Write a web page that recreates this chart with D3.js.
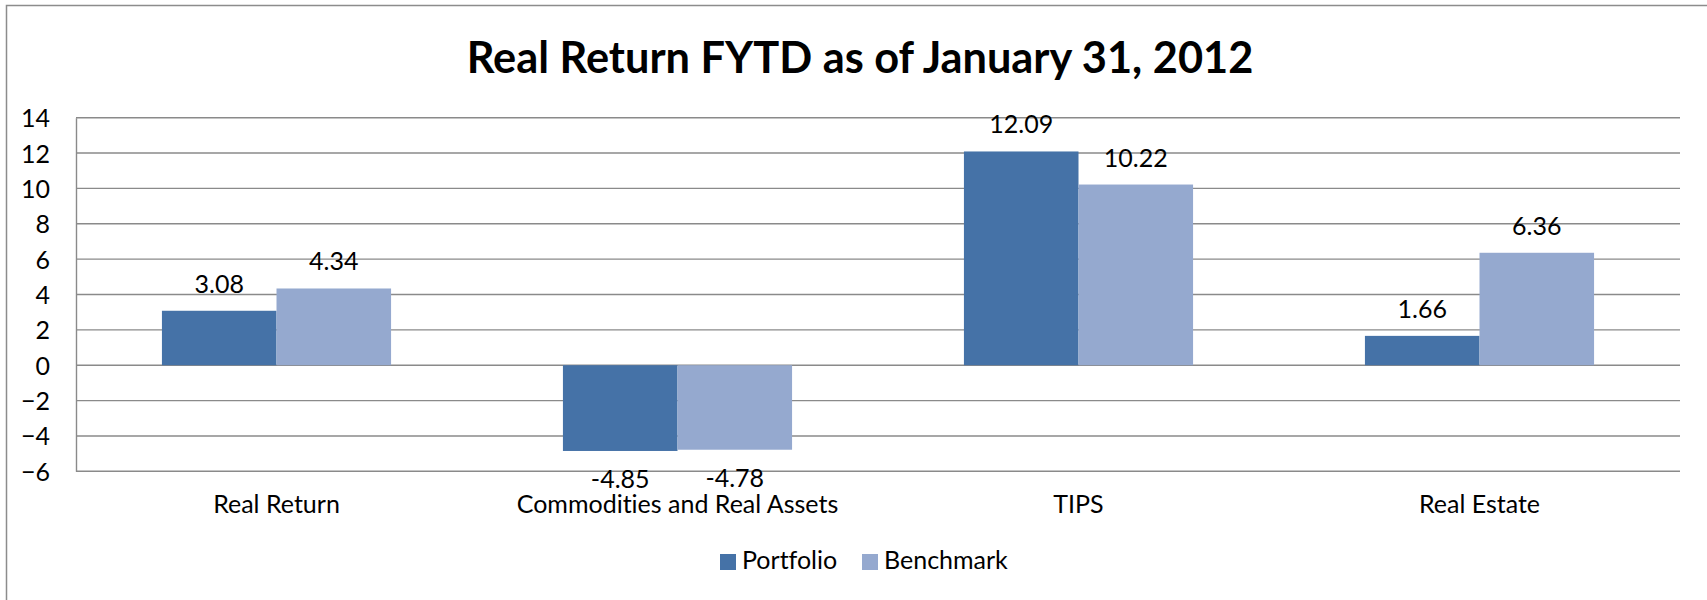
<!DOCTYPE html>
<html>
<head>
<meta charset="utf-8">
<script src="https://cdn.jsdelivr.net/npm/d3@7"></script>
<style>
  body { margin: 0; background: #fff; }
  svg text { font-family: Lato, "Open Sans", sans-serif; fill: #000; font-variant-ligatures: none; }
</style>
</head>
<body>
<svg id="chart" width="1707" height="600"></svg>
<script>
// data
var categories = ['Real Return', 'Commodities and Real Assets', 'TIPS', 'Real Estate'];
var series_names = ['Portfolio', 'Benchmark'];
var portfolio = [3.08, -4.85, 12.09, 1.66];
var benchmark = [4.34, -4.78, 10.22, 6.36];
var y_ticks = [-6, -4, -2, 0, 2, 4, 6, 8, 10, 12, 14];
var title_text = 'Real Return FYTD as of January 31, 2012';

var colors = {Portfolio: '#4572a7', Benchmark: '#95a9cf'};
var grid_color = '#8a8a8a';
var font_size = '25px';

var svg = d3.select('#chart');
var plot = {left: 76, right: 1680, top: 117.7, bottom: 471.3};

// chart border (left + top only visible)
svg.append('path')
    .attr('d', 'M6.5,600 L6.5,5.5 L1707,5.5')
    .attr('fill', 'none')
    .attr('stroke', '#8c8c8c')
    .attr('stroke-width', 1.5);

// title, fitted to the width it has in the picture
var title = svg.append('text')
    .attr('x', 860)
    .attr('y', 73)
    .attr('text-anchor', 'middle')
    .style('font-weight', 'bold')
    .style('font-size', '40px')
    .text(title_text);
var tw = title.node().getComputedTextLength();
title.style('font-size', (40 * 787 / tw) + 'px');

// scales
var x0 = d3.scaleBand()
    .domain(categories)
    .range([plot.left, plot.right])
    .paddingInner(1.5 / 3.5)
    .paddingOuter(0.75 / 3.5);
var x1 = d3.scaleBand()
    .domain(series_names)
    .range([0, x0.bandwidth()]);
var y = d3.scaleLinear()
    .domain([d3.min(y_ticks), d3.max(y_ticks)])
    .range([plot.bottom, plot.top]);

// gridlines
svg.append('g')
    .selectAll('line')
    .data(y_ticks)
    .enter()
    .append('line')
    .attr('x1', plot.left)
    .attr('x2', plot.right)
    .attr('y1', function(d){ return y(d); })
    .attr('y2', function(d){ return y(d); })
    .attr('stroke', grid_color)
    .attr('stroke-width', 1.4);

// y axis
var y_axis = svg.append('g')
    .attr('transform', 'translate(' + plot.left + ',0)')
    .call(d3.axisLeft(y).tickValues(y_ticks).tickSize(0).tickPadding(26).tickFormat(d3.format('d')));
y_axis.select('.domain').attr('stroke', grid_color).attr('stroke-width', 1.4);
y_axis.selectAll('text')
    .style('font-size', font_size)
    .style('font-family', 'Lato, sans-serif')
    .attr('dy', '0.36em');

// bars
var rows = categories.map(function(c, i){
    return {category: c, values: [
        {name: 'Portfolio', value: portfolio[i]},
        {name: 'Benchmark', value: benchmark[i]}
    ]};
});

var groups = svg.append('g')
    .selectAll('g')
    .data(rows)
    .enter()
    .append('g')
    .attr('transform', function(d){ return 'translate(' + x0(d.category) + ',0)'; });

groups.selectAll('rect')
    .data(function(d){ return d.values; })
    .enter()
    .append('rect')
    .attr('x', function(d){ return x1(d.name); })
    .attr('width', x1.bandwidth())
    .attr('y', function(d){ return y(Math.max(0, d.value)); })
    .attr('height', function(d){ return Math.abs(y(d.value) - y(0)); })
    .attr('fill', function(d){ return colors[d.name]; });

groups.selectAll('text.label')
    .data(function(d){ return d.values; })
    .enter()
    .append('text')
    .attr('class', 'label')
    .attr('x', function(d){ return x1(d.name) + x1.bandwidth() / 2; })
    .attr('y', function(d){ return d.value >= 0 ? y(d.value) - 18 : y(d.value) + 37; })
    .attr('text-anchor', 'middle')
    .style('font-size', font_size)
    .text(function(d){ return d.value.toFixed(2); });

// category labels
svg.append('g')
    .selectAll('text')
    .data(categories)
    .enter()
    .append('text')
    .attr('x', function(d){ return x0(d) + x0.bandwidth() / 2; })
    .attr('y', 513)
    .attr('text-anchor', 'middle')
    .style('font-size', font_size)
    .text(function(d){ return d; });

// legend
var legend_x = [720, 862];
var legend = svg.append('g')
    .selectAll('g')
    .data(series_names)
    .enter()
    .append('g')
    .attr('transform', function(d, i){ return 'translate(' + legend_x[i] + ',554)'; });
legend.append('rect')
    .attr('width', 16)
    .attr('height', 16)
    .attr('fill', function(d){ return colors[d]; });
legend.append('text')
    .attr('x', 22)
    .attr('y', 15)
    .style('font-size', font_size)
    .text(function(d){ return d; });
</script>
</body>
</html>
